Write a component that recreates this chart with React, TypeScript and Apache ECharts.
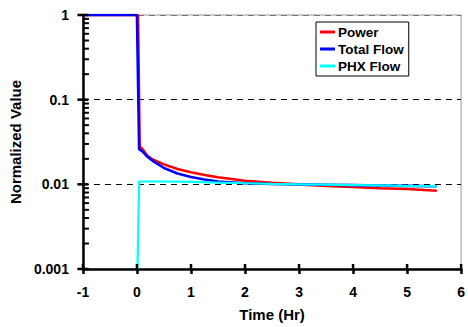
import React, { useEffect, useRef } from "react";
import * as echarts from "echarts";

const SERIES_NAMES = ["Power", "Total Flow", "PHX Flow"];
const POWER_T = [-1, 0.02, 0.05, 0.1, 0.2, 0.3, 0.5, 0.75, 1, 1.25, 1.5, 2, 2.5, 3, 3.5, 4, 4.5, 5, 5.55];
const POWER_V = [1, 1, 0.028, 0.0262, 0.0215, 0.0195, 0.0172, 0.0152, 0.0139, 0.0129, 0.0121, 0.011, 0.0104, 0.01, 0.0096, 0.0093, 0.009, 0.0088, 0.0084];
const FLOW_T = [-1, 0, 0.04, 0.1, 0.2, 0.3, 0.5, 0.75, 1, 1.25, 1.5, 2, 2.5, 3, 3.5, 4, 4.5, 5, 5.55];
const FLOW_V = [1, 1, 0.026, 0.0245, 0.021, 0.0188, 0.0156, 0.0134, 0.0122, 0.0114, 0.0108, 0.0103, 0.0101, 0.01, 0.0099, 0.0098, 0.0097, 0.0096, 0.0095];
const PHX_T = [0.01, 0.04, 0.5, 1, 1.5, 2, 2.5, 3, 3.5, 4, 4.5, 5, 5.55];
const PHX_V = [0.001, 0.0108, 0.0108, 0.0107, 0.0105, 0.0103, 0.0101, 0.01, 0.0099, 0.0098, 0.0097, 0.0096, 0.0095];
const COLORS = ["#ff0000", "#0000ff", "#00ffff"];
const Y_MAJOR = [0.001, 0.01, 0.1, 1];
const Y_MINOR_MULT = [2, 3, 4, 5, 6, 7, 8, 9];
const X_TICKS = [-1, 0, 1, 2, 3, 4, 5, 6];
const X_MIN = -1;
const X_MAX = 6;

const FONT = "'Liberation Sans', Arial, Helvetica, sans-serif";

export default function App() {
  const ref = useRef<HTMLDivElement>(null);
  useEffect(() => {
    if (!ref.current) return;
    const chart = echarts.init(ref.current, undefined, { renderer: "svg" });
    const minorVals: number[] = [];
    Y_MAJOR.slice(0, -1).forEach((m) => Y_MINOR_MULT.forEach((k) => minorVals.push(m * k)));
    const zip = (t: number[], v: number[]) => t.map((x, i) => [x, v[i]]);
    const lineSeries = [zip(POWER_T, POWER_V), zip(FLOW_T, FLOW_V), zip(PHX_T, PHX_V)].map((d, i) => ({
      name: SERIES_NAMES[i],
      type: "line",
      data: d,
      showSymbol: false,
      symbol: "none",
      lineStyle: { color: COLORS[i], width: i === 2 ? 2.2 : 2.6 },
      itemStyle: { color: COLORS[i] },
      z: 3 + i,
    }));
    const tickSeries = (name: string, data: number[][], size: number[], offset: number[]) => ({
      type: "scatter",
      name,
      silent: true,
      clip: false,
      z: 10,
      symbol: "rect",
      symbolSize: size,
      symbolOffset: offset,
      itemStyle: { color: "#000", opacity: 1 },
      data,
    });
    const yMin = Y_MAJOR[0];
    chart.setOption({
      animation: false,
      backgroundColor: "#fff",
      textStyle: { fontFamily: FONT },
      grid: {
        left: 82,
        right: 5,
        top: 15,
        bottom: 57,
        show: true,
        borderColor: "#999",
        borderWidth: 1,
      },
      legend: {
        data: SERIES_NAMES,
        orient: "vertical",
        left: 316,
        top: 22,
        padding: [3, 5, 3, 4],
        itemGap: 3,
        icon: "rect",
        itemWidth: 15,
        itemHeight: 3,
        backgroundColor: "#fff",
        borderColor: "#000",
        borderWidth: 1,
        textStyle: { fontFamily: FONT, fontWeight: "bold", fontSize: 13.5, color: "#000", padding: [0, 0, 0, -2] },
      },
      xAxis: {
        type: "value",
        min: X_MIN,
        max: X_MAX,
        interval: 1,
        name: "Time (Hr)",
        nameLocation: "middle",
        nameGap: 38,
        nameTextStyle: { fontFamily: FONT, fontWeight: "bold", fontSize: 15, color: "#000" },
        axisLine: { show: true, onZero: false, lineStyle: { color: "#000", width: 2.5 } },
        axisTick: { show: true, inside: false, length: 5, lineStyle: { color: "#000", width: 2.5 } },
        axisLabel: { margin: 16, fontFamily: FONT, fontWeight: "bold", fontSize: 14, color: "#000" },
        splitLine: { show: false },
      },
      yAxis: {
        type: "log",
        logBase: 10,
        min: 0.001,
        max: 1,
        name: "Normalized Value",
        nameLocation: "middle",
        nameGap: 34,
        nameTextStyle: { fontFamily: FONT, fontWeight: "bold", fontSize: 15, color: "#000" },
        axisLine: { show: true, onZero: false, lineStyle: { color: "#000", width: 2.5 } },
        axisTick: { show: false },
        axisLabel: {
          margin: 14,
          fontFamily: FONT,
          fontWeight: "bold",
          fontSize: 14,
          color: "#000",
          formatter: (v: number) => String(parseFloat(v.toPrecision(3))),
        },
        splitLine: {
          show: true,
          lineStyle: { color: ["#000", "#000", "#000", "#777"], width: 1, type: [6, 5] },
        },
      },
      series: [
        ...lineSeries,
        tickSeries("minorTicks", minorVals.map((v) => [X_MIN, v]), [6, 2], [3, 0]),
        tickSeries("majorTicksY", Y_MAJOR.map((v) => [X_MIN, v]), [11, 2.5], [0, 0]),
        tickSeries("xTicksIn", X_TICKS.map((t) => [t, yMin]), [2.5, 5], [0, -2.5]),
      ],
    });
    return () => chart.dispose();
  }, []);
  return <div ref={ref} style={{ width: 468, height: 327, position: "absolute", left: 0, top: 0 }} />;
}
